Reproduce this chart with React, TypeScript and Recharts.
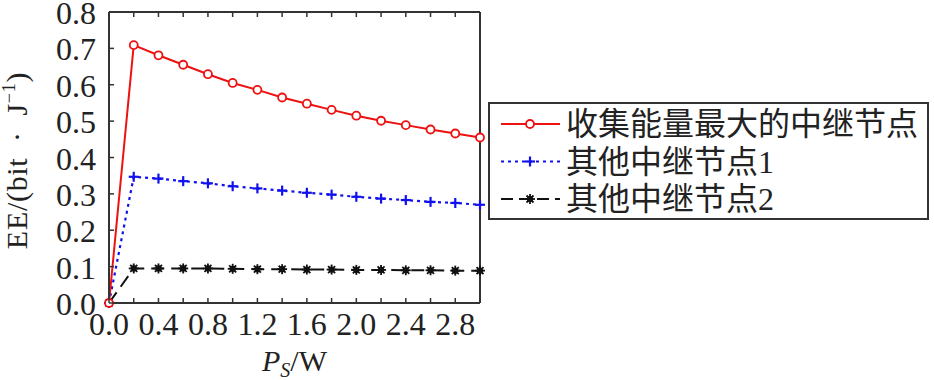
import React from 'react';
import { LineChart, Line, XAxis, YAxis, Label } from 'recharts';

// P_S in W, one point every 0.2 W
const powerLevels = [0, 0.2, 0.4, 0.6, 0.8, 1.0, 1.2, 1.4, 1.6, 1.8, 2.0, 2.2, 2.4, 2.6, 2.8, 3.0];

const maxHarvestRelay = [0, 0.709, 0.681, 0.655, 0.629, 0.605, 0.586, 0.565, 0.548, 0.531, 0.515, 0.501, 0.489, 0.477, 0.466, 0.455];
const otherRelay1 = [0, 0.347, 0.342, 0.335, 0.329, 0.321, 0.315, 0.309, 0.303, 0.298, 0.292, 0.287, 0.283, 0.278, 0.275, 0.27];
const otherRelay2 = [0, 0.095, 0.095, 0.095, 0.095, 0.094, 0.093, 0.093, 0.092, 0.092, 0.091, 0.091, 0.09, 0.09, 0.089, 0.089];

const xTicks = [0, 0.2, 0.4, 0.6, 0.8, 1.0, 1.2, 1.4, 1.6, 1.8, 2.0, 2.2, 2.4, 2.6, 2.8, 3.0];
const yTicks = [0, 0.1, 0.2, 0.3, 0.4, 0.5, 0.6, 0.7, 0.8];

const seriesNames = ['收集能量最大的中继节点', '其他中继节点1', '其他中继节点2'];

const data = powerLevels.map((p, i) => ({
  p,
  a: maxHarvestRelay[i],
  b: otherRelay1[i],
  c: otherRelay2[i],
}));

const FONT = "'Liberation Serif', 'Noto Sans CJK SC', serif";
const FRAME = '#333333';
const RED = '#ee1111';
const BLUE = '#1111ee';
const BLACK = '#111111';
const TICK_LEN = 5;
const TICK_FS = 32;

const CircleDot = (props: any) => {
  const { cx, cy, index } = props;
  return <circle key={`a-${index}`} cx={cx} cy={cy} r={4} fill="white" stroke={RED} strokeWidth={1.8} />;
};

const PlusDot = (props: any) => {
  const { cx, cy, index } = props;
  const s = 5;
  return (
    <g key={`b-${index}`} stroke={BLUE} strokeWidth={2.2}>
      <line x1={cx - s} y1={cy} x2={cx + s} y2={cy} />
      <line x1={cx} y1={cy - s} x2={cx} y2={cy + s} />
    </g>
  );
};

const StarDot = (props: any) => {
  const { cx, cy, index } = props;
  const s = 5;
  const d = s * 0.7;
  return (
    <g key={`c-${index}`} stroke={BLACK} strokeWidth={1.8}>
      <line x1={cx - s} y1={cy} x2={cx + s} y2={cy} />
      <line x1={cx} y1={cy - s} x2={cx} y2={cy + s} />
      <line x1={cx - d} y1={cy - d} x2={cx + d} y2={cy + d} />
      <line x1={cx - d} y1={cy + d} x2={cx + d} y2={cy - d} />
      <circle cx={cx} cy={cy} r={2.2} fill={BLACK} />
    </g>
  );
};

const BottomTick = (props: any) => {
  const { x, y, payload } = props;
  const v = payload.value;
  const showLabel = Math.round(v * 10) % 4 === 0;
  return (
    <g>
      <line x1={x} y1={y} x2={x} y2={y - TICK_LEN} stroke={FRAME} strokeWidth={1.5} />
      {showLabel && (
        <text x={x} y={y + 32} textAnchor="middle" fontFamily={FONT} fontSize={TICK_FS} fill="#222">
          {v.toFixed(1)}
        </text>
      )}
    </g>
  );
};

const TopTick = (props: any) => {
  const { x, y } = props;
  return <line x1={x} y1={y} x2={x} y2={y + TICK_LEN} stroke={FRAME} strokeWidth={1.5} />;
};

const LeftTick = (props: any) => {
  const { x, y, payload } = props;
  return (
    <g>
      <line x1={x} y1={y} x2={x + TICK_LEN} y2={y} stroke={FRAME} strokeWidth={1.5} />
      <text x={x - 13} y={y + 12} textAnchor="end" fontFamily={FONT} fontSize={TICK_FS} fill="#222">
        {payload.value.toFixed(1)}
      </text>
    </g>
  );
};

const RightTick = (props: any) => {
  const { x, y } = props;
  return <line x1={x} y1={y} x2={x - TICK_LEN} y2={y} stroke={FRAME} strokeWidth={1.5} />;
};

const XTitle = (props: any) => {
  const { viewBox } = props;
  const cx = viewBox.x + viewBox.width / 2;
  return (
    <text x={cx} y={viewBox.y + 68} textAnchor="middle" fontFamily={FONT} fontSize={30} fill="#222">
      <tspan fontStyle="italic">P</tspan>
      <tspan fontStyle="italic" fontSize={20} dy={6}>S</tspan>
      <tspan dy={-6}>/W</tspan>
    </text>
  );
};

const YTitle = (props: any) => {
  const { viewBox } = props;
  const cy = viewBox.y + viewBox.height / 2 + 3;
  const x = 27;
  return (
    <text
      x={x}
      y={cy}
      transform={`rotate(-90 ${x} ${cy})`}
      textAnchor="middle"
      fontFamily={FONT}
      fontSize={30}
      letterSpacing={0.7}
      fill="#222"
    >
      <tspan>{'EE/(bit\u2002·\u2002J'}</tspan>
      <tspan fontSize={18} dy={-12}>−1</tspan>
      <tspan dy={12}>)</tspan>
    </text>
  );
};

const legendRows = [
  { name: seriesNames[0], color: RED, dash: undefined, marker: 'circle' },
  { name: seriesNames[1], color: BLUE, dash: '3 4', marker: 'plus' },
  { name: seriesNames[2], color: BLACK, dash: '12 6', marker: 'star' },
];

const LegendBox = () => (
  <div
    style={{
      position: 'absolute',
      left: 488,
      top: 102,
      width: 437,
      height: 114,
      border: `2px solid ${FRAME}`,
      background: 'white',
    }}
  >
    <svg width={437} height={114}>
      {legendRows.map((r, i) => {
        const y = 20 + i * 37.5;
        const mx = 40;
        return (
          <g key={r.name}>
            <line x1={11} y1={y} x2={70} y2={y} stroke={r.color} strokeWidth={2} strokeDasharray={r.dash} />
            {r.marker === 'circle' && <CircleDot cx={mx} cy={y} index={i} />}
            {r.marker === 'plus' && <PlusDot cx={mx} cy={y} index={i} />}
            {r.marker === 'star' && <StarDot cx={mx} cy={y} index={i} />}
            <text x={76} y={y + 11} fontFamily={FONT} fontSize={32} fill="#222">
              {r.name}
            </text>
          </g>
        );
      })}
    </svg>
  </div>
);

export default function App() {
  return (
    <div style={{ position: 'absolute', left: 0, top: 0, width: 934, height: 380, background: 'white' }}>
      <LineChart width={934} height={380} data={data} margin={{ top: 11, right: 453, bottom: 0, left: 0 }}>
        <XAxis
          dataKey="p"
          type="number"
          domain={[0, 3]}
          ticks={xTicks}
          interval={0}
          tickSize={0}
          tickMargin={0}
          height={77}
          axisLine={{ stroke: FRAME, strokeWidth: 2 }}
          tickLine={false}
          tick={<BottomTick />}
        >
          <Label content={<XTitle />} />
        </XAxis>
        <XAxis
          xAxisId="top"
          orientation="top"
          dataKey="p"
          type="number"
          domain={[0, 3]}
          ticks={xTicks}
          interval={0}
          tickSize={0}
          tickMargin={0}
          height={1}
          axisLine={{ stroke: FRAME, strokeWidth: 2 }}
          tickLine={false}
          tick={<TopTick />}
        />
        <YAxis
          type="number"
          domain={[0, 0.8]}
          ticks={yTicks}
          interval={0}
          tickSize={0}
          tickMargin={0}
          width={109}
          axisLine={{ stroke: FRAME, strokeWidth: 2 }}
          tickLine={false}
          tick={<LeftTick />}
        >
          <Label content={<YTitle />} />
        </YAxis>
        <YAxis
          yAxisId="right"
          orientation="right"
          type="number"
          domain={[0, 0.8]}
          ticks={yTicks}
          interval={0}
          tickSize={0}
          tickMargin={0}
          width={1}
          axisLine={{ stroke: FRAME, strokeWidth: 2 }}
          tickLine={false}
          tick={<RightTick />}
        />
        <Line
          dataKey="c"
          name={seriesNames[2]}
          stroke={BLACK}
          strokeWidth={2}
          strokeDasharray="13 7"
          dot={StarDot}
          isAnimationActive={false}
        />
        <Line
          dataKey="b"
          name={seriesNames[1]}
          stroke={BLUE}
          strokeWidth={2.2}
          strokeDasharray="3 4"
          dot={PlusDot}
          isAnimationActive={false}
        />
        <Line
          dataKey="a"
          name={seriesNames[0]}
          stroke={RED}
          strokeWidth={2}
          dot={CircleDot}
          isAnimationActive={false}
        />
      </LineChart>
      <LegendBox />
    </div>
  );
}
